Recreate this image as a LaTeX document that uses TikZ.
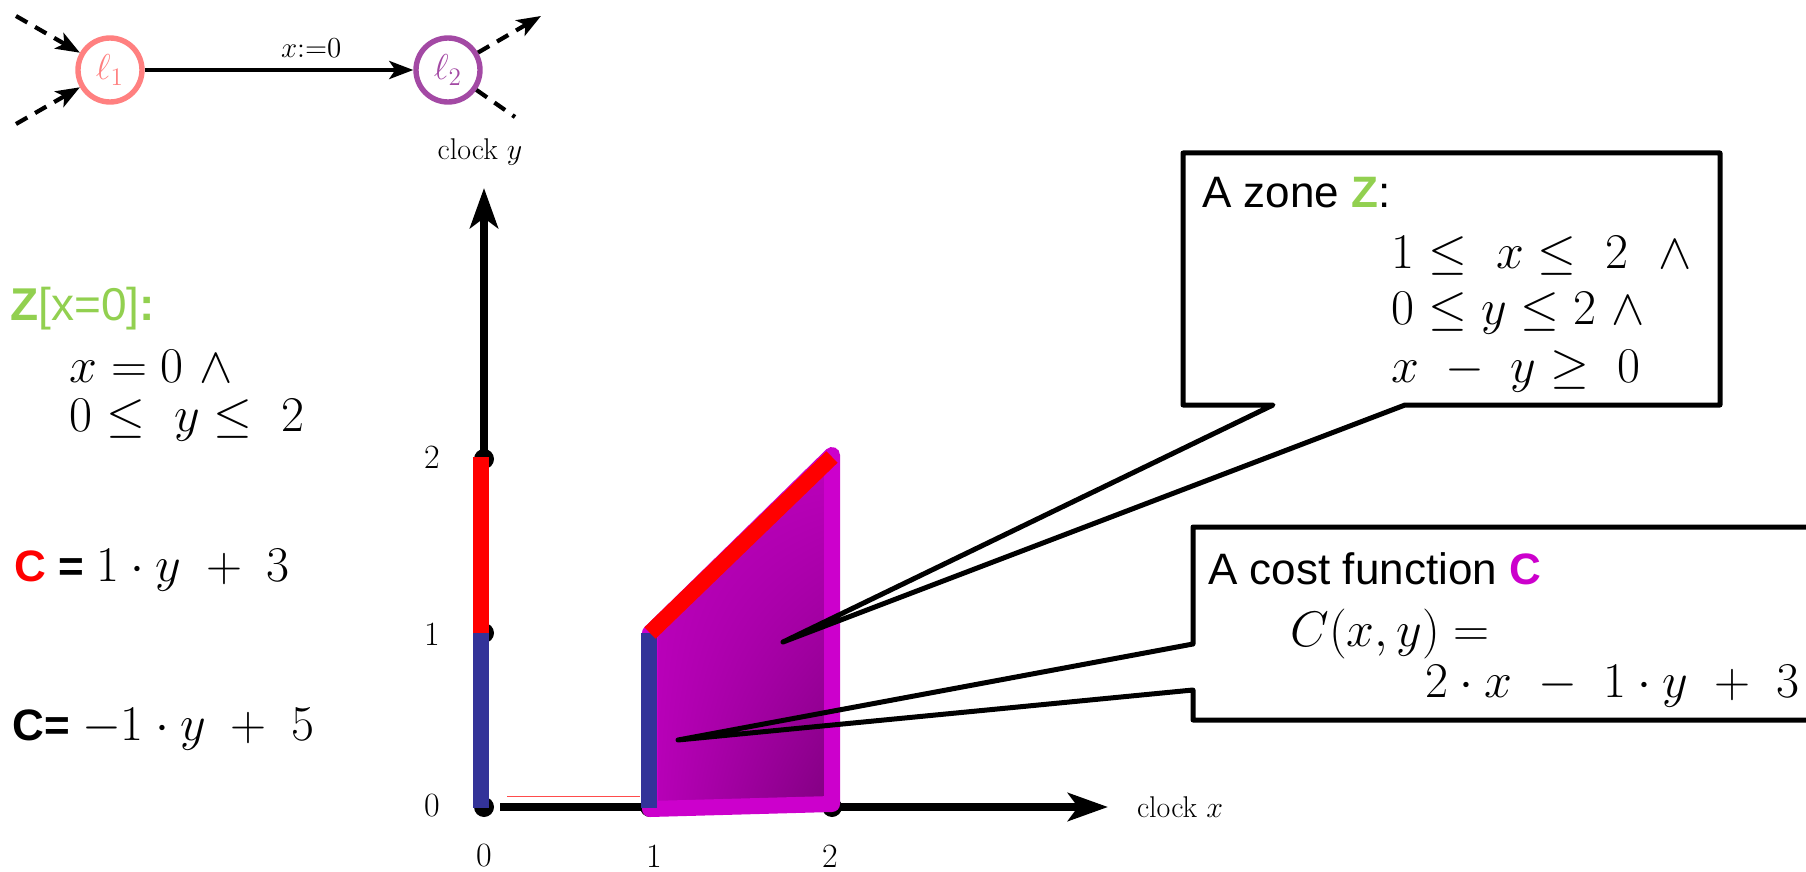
\RequirePackage{fix-cm}
\documentclass[tikz,border=0pt]{standalone}
\usepackage{fontspec}
\newfontfamily\arialfont{Liberation Sans}
\usetikzlibrary{arrows.meta}
\usetikzlibrary{positioning}
\usetikzlibrary{shadings}
\definecolor{zgreen}{HTML}{92D050}
\definecolor{cmag}{HTML}{CC00CC}
\definecolor{cdark}{HTML}{800080}
\definecolor{cblue}{HTML}{333399}
\definecolor{locpink}{HTML}{FF8080}
\definecolor{locpurple}{HTML}{A349A4}
\tikzset{
  loc/.style={
    circle, draw, line width=2.7pt, minimum size=32pt, inner sep=0pt,
    font=\fontsize{18}{18}\selectfont},
  trans/.style={-{Stealth[length=12pt, width=9pt, inset=3pt]}, line width=2.1pt},
  stub/.style={trans, dash pattern=on 6.5pt off 4.5pt},
  axisline/.style={-{Stealth[length=20pt, width=14pt, inset=5pt]}, line width=4pt},
  ticklab/.style={inner sep=0pt, font=\fontsize{17}{17}\selectfont},
  clocklab/.style={font=\fontsize{15}{15}\selectfont},
  bar/.style={line width=8pt},
  callout/.style={line width=2.5pt, line join=round, line cap=round},
  sftext/.style={anchor=west, inner sep=0pt, font=\arialfont\fontsize{22}{26}\selectfont},
  mathtext/.style={anchor=west, inner sep=0pt, font=\fontsize{25}{30}\selectfont},
}

\begin{document}
\begin{tikzpicture}[x=0.5pt, y=-0.5pt]
\useasboundingbox (0,0) rectangle (1806,872);

% Automaton: the reset edge.
\node[loc, draw=locpink, text=locpink] (l1) at (110,70) {$\ell_1$};
\node[loc, draw=locpurple, text=locpurple] (l2) at (448,70) {$\ell_2$};
\draw[trans] (l1) -- node[pos=0.62, above=2pt, font=\fontsize{14.5}{14.5}\selectfont]
  (reset) {$x{:=}0$} (l2);
\coordinate (in1) at (16,16);
\coordinate (in2) at (16,124);
\coordinate (out1) at (541,16);
\coordinate (out2) at (515,117);
\draw[stub] (in1) -- (l1);
\draw[stub] (in2) -- (l1);
\draw[stub] (l2) -- (out1);
\draw[stub, -] (l2) -- (out2);

% Clock plane.
\coordinate (o) at (484,807);
\coordinate (y1) at (481,633);
\coordinate (y2) at (481,457);
\coordinate (y0) at (481,808);
\coordinate (x1) at (650,807);
\coordinate (x2) at (832,807);
\coordinate (p11) at (650,633);
\coordinate (p22) at (832,457);
\coordinate (xstart) at (500,807);
\coordinate (xtip) at (1108,807);
\coordinate (ytip) at (484,188);
\draw[axisline] (o) -- (ytip);
\draw[axisline] (xstart) -- (xtip);
\foreach \p in {o, x1, x2} {
  \fill (\p) circle[radius=5pt];
}
\fill (484,633) circle[radius=5pt];
\fill (484,459) circle[radius=5pt];
\draw[red!70, line width=0.4pt] (507,796) -- (640,796);

\node[ticklab] (tx0) at (484,856) {0};
\node[ticklab] (tx1) at (654,856) {1};
\node[ticklab] (tx2) at (830,856) {2};
\node[ticklab] (ty0) at (432,806) {0};
\node[ticklab] (ty1) at (432,634) {1};
\node[ticklab] (ty2) at (432,457) {2};
\node[clocklab] (clockx) at (1180,807) {clock $x$};
\node[clocklab] (clocky) at (480,152) {clock $y$};

% The zone, its cost on the borders.
\shadedraw[draw=cmag, line width=8pt, line join=round,
  upper left=cmag!92!black, upper right=cmag!80!cdark,
  lower left=cmag!75!cdark, lower right=cdark]
  (650,633) -- (832,455) -- (832,804) -- (650,809) -- cycle;
\draw[bar, red] (y2) -- (y1);
\draw[bar, cblue] (y1) -- (y0);
\draw[bar, cblue] (649,633) -- (649,808);
\draw[bar, red] (p11) -- (p22);

% Left: the reset zone and its costs.
\node[sftext, text=zgreen, font=\arialfont\fontsize{23}{26}\selectfont] (zreset) at (10,309)
  {\textbf{Z}[x=0]\textbf{:}};
\node[mathtext] (zeq1) at (69,366) {$x = 0\ \wedge$};
\node[mathtext] (zeq2) at (69,420) {$0 \le\ y \le\ 2$};
\node[sftext] (cred) at (14,570)
  {\textbf{\color{red}C} \textbf{=} {\fontsize{25}{30}\selectfont$1\cdot y\ +\ 3$}};
\node[sftext] (cblue) at (12,729)
  {\textbf{C=} {\fontsize{25}{30}\selectfont$-1\cdot y\ +\ 5$}};

% Callouts.
\coordinate (zonetip) at (783,642);
\coordinate (costtip) at (678,740);
\draw[callout] (1183,153) -- (1720,153) -- (1720,405) -- (1405,405)
  -- (zonetip) -- (1273,405) -- (1183,405) -- cycle;
\draw[callout] (1840,527) -- (1193,527) -- (1193,644) -- (costtip)
  -- (1193,690) -- (1193,720) -- (1840,720);
\node[sftext] (zonehead) at (1202,193) {A zone \textbf{\color{zgreen}Z}:};
\node[mathtext] (zone1) at (1391,256) {$1 \le\ x \le\ 2\ \ \wedge$};
\node[mathtext] (zone2) at (1391,313) {$0 \le y \le 2\ \wedge$};
\node[mathtext] (zone3) at (1391,371) {$x\ -\ y \ge\ 0$};
\node[sftext] (costhead) at (1208,569) {A cost function \textbf{\color{cmag}C}};
\node[mathtext] (cost1) at (1290,634) {$C(x,y) =$};
\node[mathtext, anchor=east] (cost2) at (1800,686) {$2\cdot x\ -\ 1\cdot y\ +\ 3$};

\end{tikzpicture}
\end{document}
